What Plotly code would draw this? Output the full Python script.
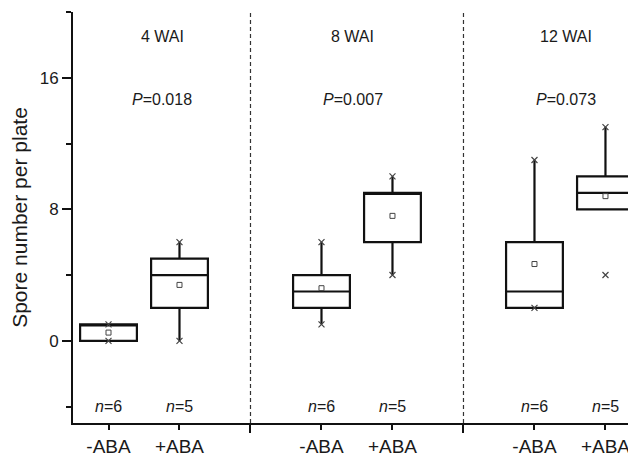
import plotly.graph_objects as go

# ---- data ----
positions = [1, 2, 4, 5, 7, 8]
group_labels = ["-ABA", "+ABA", "-ABA", "+ABA", "-ABA", "+ABA"]
q1 = [0, 2, 2, 6, 2, 8]
median = [1, 4, 3, 9, 3, 9]
q3 = [1, 5, 4, 9, 6, 10]
lower_whisker = [0, 0, 1, 4, 2, 8]
upper_whisker = [1, 6, 6, 10, 11, 13]
means = [0.5, 3.4, 3.2, 7.6, 4.67, 8.8]
mins = [0, 0, 1, 4, 2, 4]
maxs = [1, 6, 6, 10, 11, 13]
n_labels = ["6", "5", "6", "5", "6", "5"]

periods = ["4 WAI", "8 WAI", "12 WAI"]
period_x = [1.76, 4.44, 7.45]
p_values = ["0.018", "0.007", "0.073"]
separators = [3, 6]

FONT = "Liberation Sans, Arial, sans-serif"

fig = go.Figure()

fig.add_trace(go.Box(
    x=positions, q1=q1, median=median, q3=q3,
    lowerfence=lower_whisker, upperfence=upper_whisker,
    width=0.8, fillcolor="white",
    line=dict(color="#111111", width=2.2),
    boxpoints=False, whiskerwidth=0, showlegend=False, hoverinfo="skip",
))

# min / max markers
fig.add_trace(go.Scatter(
    x=positions + positions, y=mins + maxs, mode="markers",
    marker=dict(symbol="x-thin", size=6, line=dict(color="#444444", width=1.2)),
    showlegend=False, hoverinfo="skip",
))

# mean markers
fig.add_trace(go.Scatter(
    x=positions, y=means, mode="markers",
    marker=dict(symbol="square-open", size=5, color="#444444", line=dict(width=1)),
    showlegend=False, hoverinfo="skip",
))

shapes = []
for s in separators:
    shapes.append(dict(type="line", xref="x", yref="y", x0=s, x1=s, y0=-5, y1=20,
                       line=dict(color="#333333", width=1.2, dash="4px,3px")))

annotations = []
for px, lab, pv in zip(period_x, periods, p_values):
    annotations.append(dict(x=px, y=18.5, xref="x", yref="y", text=lab, showarrow=False,
                            font=dict(family=FONT, size=16, color="#1a1a1a")))
    annotations.append(dict(x=px, y=14.7, xref="x", yref="y", text="<i>P</i>=" + pv,
                            showarrow=False, font=dict(family=FONT, size=16, color="#1a1a1a")))
for px, n in zip(positions, n_labels):
    annotations.append(dict(x=px, y=-4, xref="x", yref="y", text="<i>n</i>=" + n,
                            showarrow=False, font=dict(family=FONT, size=16, color="#1a1a1a")))

fig.update_layout(
    width=628, height=449,
    margin=dict(l=65, r=0, t=4, b=34),
    plot_bgcolor="white", paper_bgcolor="white",
    font=dict(family=FONT, color="#1a1a1a"),
    shapes=shapes, annotations=annotations,
    xaxis=dict(
        range=[0.5, 8.43], tickmode="array", tickvals=positions, ticktext=group_labels,
        showgrid=False, zeroline=False, showline=True, linecolor="#111111", linewidth=2,
        ticks="outside", ticklen=5, tickwidth=1.5, tickcolor="#111111",
        tickfont=dict(family=FONT, size=19, color="#1a1a1a"),
        minor=dict(tickmode="array", tickvals=separators, ticks="outside", ticklen=8,
                   tickwidth=1.5, tickcolor="#111111", showgrid=False),
    ),
    yaxis=dict(
        range=[-5, 20], tickmode="array", tickvals=[0, 8, 16],
        showgrid=False, zeroline=False, showline=True, linecolor="#111111", linewidth=2,
        ticks="outside", ticklen=9, tickwidth=1.5, tickcolor="#111111",
        tickfont=dict(family=FONT, size=17, color="#1a1a1a"),
        minor=dict(tickmode="array", tickvals=[-4, 4, 12, 20], ticks="outside", ticklen=5,
                   tickwidth=1.5, tickcolor="#111111", showgrid=False),
        title=dict(text="Spore number per plate", standoff=6,
                   font=dict(family=FONT, size=21, color="#1a1a1a")),
    ),
)

fig.write_html("out.html")
